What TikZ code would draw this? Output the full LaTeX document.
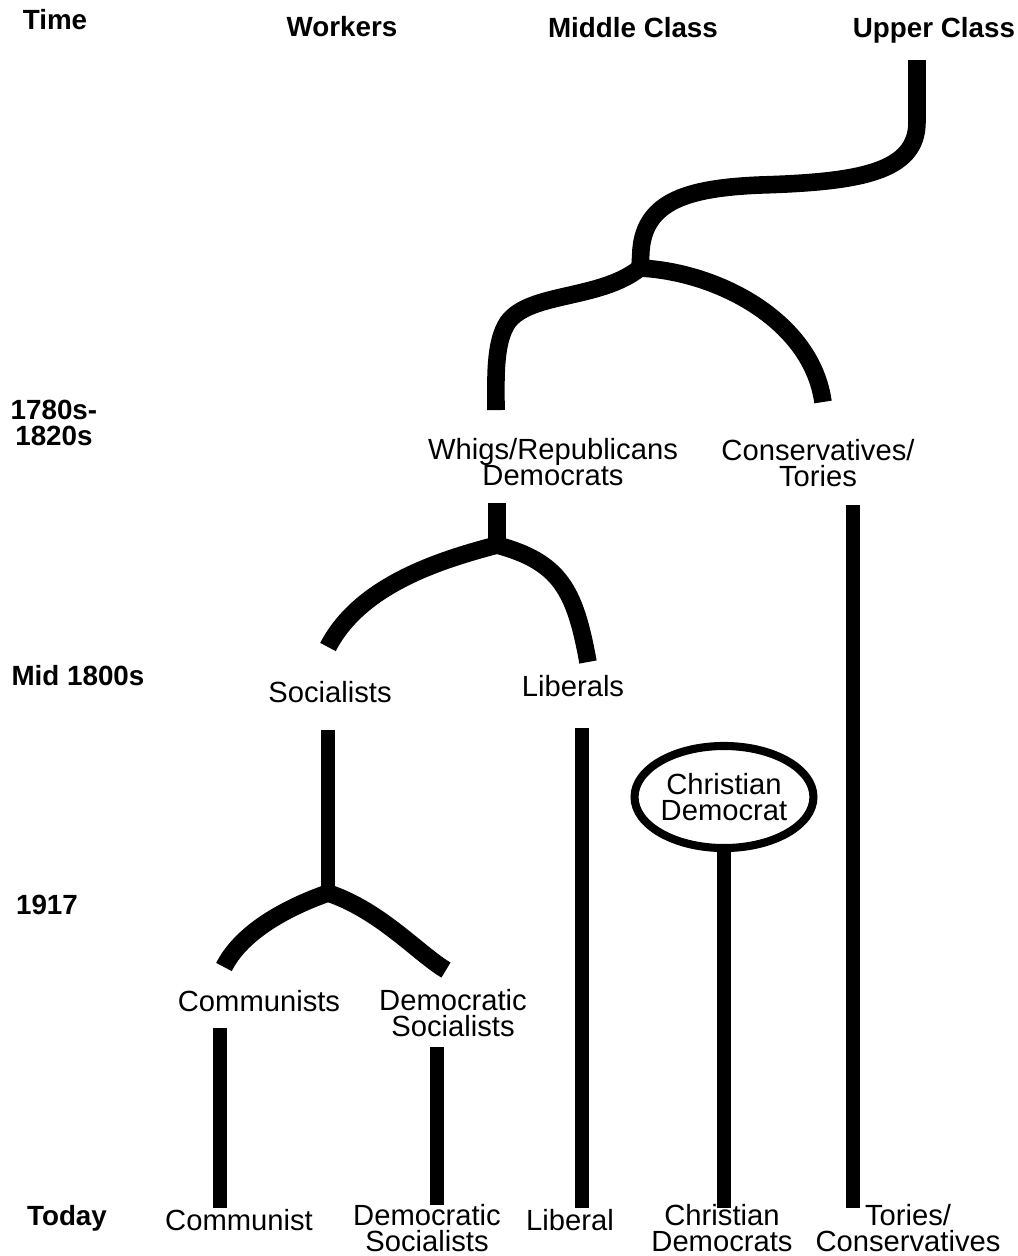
\documentclass[tikz,border=0pt]{standalone}
\usepackage{fontspec}
\setmainfont{Liberation Sans}
\usetikzlibrary{positioning}
\usetikzlibrary{shapes.geometric}

\begin{document}
\begin{tikzpicture}[
                x=0.01cm, y=-0.01cm,
                head/.style = {
                    font=\fontsize{7.9}{7.6}\selectfont\bfseries,
                    inner sep = 0pt,
                    align = left
                },
                party/.style = {
                    font=\fontsize{8.3}{7.6}\selectfont,
                    inner sep = 0pt,
                    align = center
                },
                stem/.style = {
                    line width = 3.8pt,
                    line cap = butt
                },
                fork/.style = {
                    line width = 5pt,
                    line cap = butt,
                    line join = round
                }
            ]
            \useasboundingbox (0,0) rectangle (1018,1256);
            % headings
            \node[head] (time) at (55,20) {Time};
            \node[head] (workers) at (342,27) {Workers};
            \node[head] (middle) at (633,28) {Middle Class};
            \node[head] (upper) at (934,30) {Upper Class};
            % 
            \node[head, anchor=west] (t1780) at (10,423) {1780s-\\\,1820s};
            \node[head] (tmid) at (78,676) {Mid 1800s};
            \node[head] (t1917) at (47,905) {1917};
            \node[head] (today) at (67,1218) {Today};
            % 
            % parties
            \node[party] (whigs) at (553,462) {Whigs/Republicans\\Democrats};
            \node[party] (tories) at (818,463) {Conservatives/\\Tories};
            \node[party] (socialists) at (330,692) {Socialists};
            \node[party] (liberals) at (573,686) {Liberals};
            \node[party, draw, ellipse, line width=2.3pt,
                  minimum width=1.74cm, minimum height=1.02cm] (cdem) at (724,797) {Christian\\Democrat};
            \node[party] (communists) at (259,1001) {Communists};
            \node[party] (demsoc) at (453,1013) {Democratic\\Socialists};
            % 
            % today
            \node[party] (communist) at (239,1220) {Communist};
            \node[party] (demsocnow) at (427,1228) {Democratic\\Socialists};
            \node[party] (liberal) at (570,1220) {Liberal};
            \node[party] (cdemnow) at (722,1228) {Christian\\Democrats};
            \node[party] (torynow) at (908,1228) {Tories/\\Conservatives};
            % 
            % branch points and line ends
            \coordinate (top) at (917,60);
            \coordinate (j1) at (640,268);
            \coordinate (whigend) at (496,410);
            \coordinate (toryend) at (823,402);
            \coordinate (j2) at (497,545);
            \coordinate (socend) at (328,647);
            \coordinate (libend) at (588,662);
            \coordinate (j3) at (328,893);
            \coordinate (comend) at (224,967);
            \coordinate (dsend) at (446,970);
            \coordinate (cdemend) at (724,1208);
            % 
            % upper class splits
            \draw[fork] (top) -- (917,122) .. controls (917,172) and (860,182) .. (760,185)
                .. controls (690,188) and (645,200) .. (641,250) -- (j1);
            \draw[fork] (j1) .. controls (600,300) and (530,292) .. (508,322)
                .. controls (494,342) and (496,380) .. (whigend);
            \draw[fork] (j1) .. controls (720,272) and (812,322) .. (toryend);
            % 
            % whigs split
            \draw[fork] (497,503) -- (j2);
            \draw[fork] (j2) .. controls (440,560) and (360,585) .. (socend);
            \draw[fork] (j2) .. controls (560,562) and (575,590) .. (libend);
            % 
            % socialists split
            \draw[stem] (328,730) -- (j3);
            \draw[fork] (j3) .. controls (280,910) and (240,935) .. (comend);
            \draw[fork] (j3) .. controls (380,910) and (420,955) .. (dsend);
            % 
            % lines down to today
            \draw[stem] (220,1028) -- (220,1208);
            \draw[stem] (437,1047) -- (437,1205);
            \draw[stem] (582,728) -- (582,1208);
            \draw[stem] (cdem.south) -- (cdemend);
            \draw[stem] (853,505) -- (853,1208);
        \end{tikzpicture}
\end{document}
